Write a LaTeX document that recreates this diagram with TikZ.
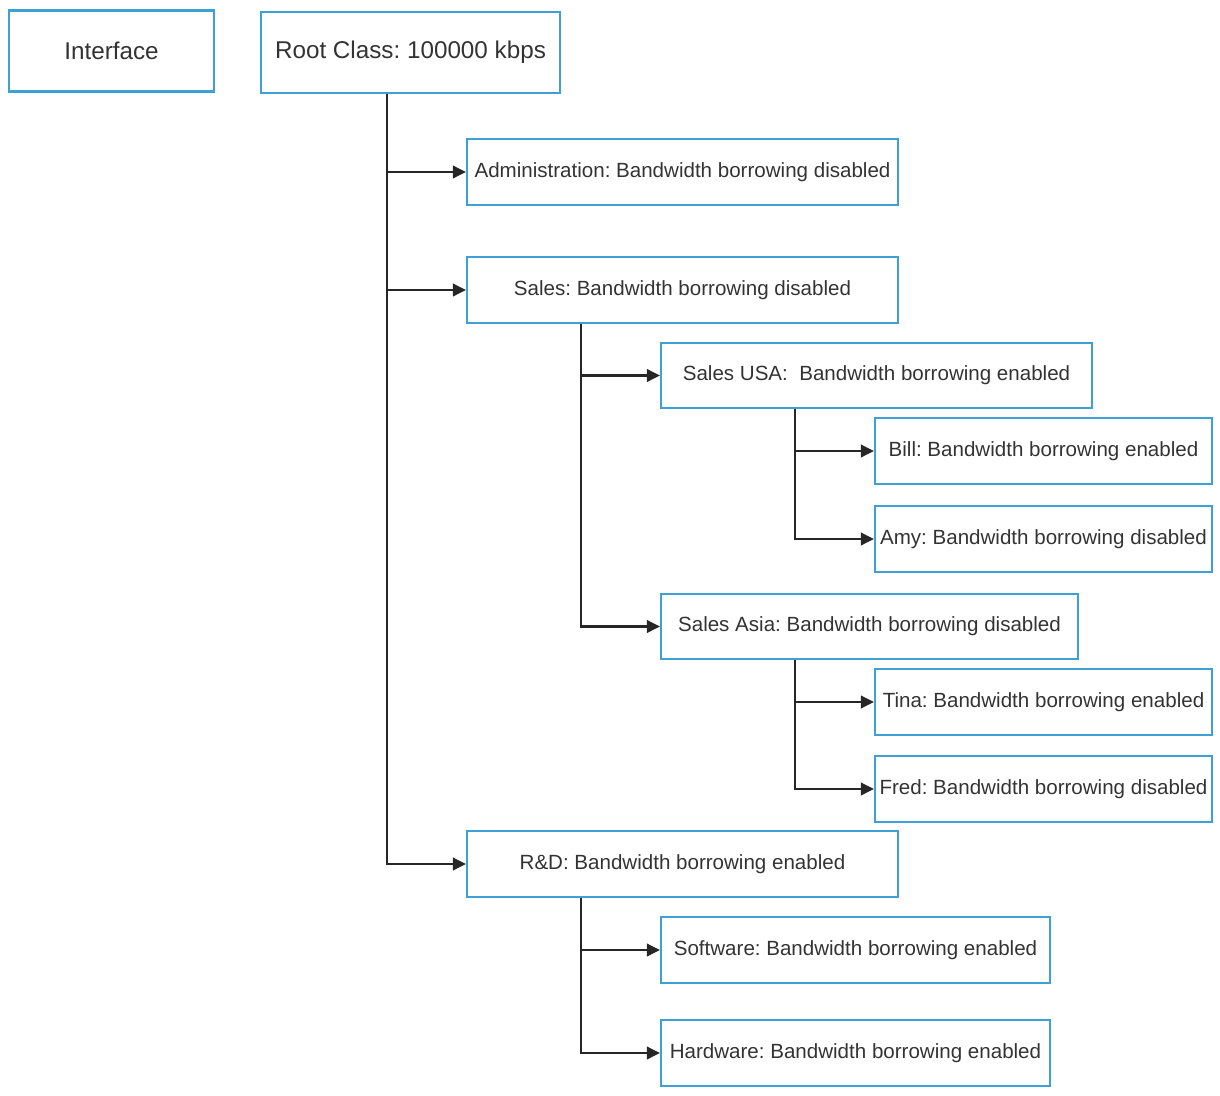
\documentclass[tikz,border=0pt]{standalone}
\usepackage{fontspec}
\setmainfont{Liberation Sans}
\usetikzlibrary{arrows.meta}
\definecolor{Frame}{HTML}{3FA0D6}
\definecolor{Ink}{HTML}{333333}
\frenchspacing

\begin{document}
\begin{tikzpicture}[
  x=0.02cm,y=-0.02cm,
  cls/.style={draw=Frame,line width=1.3pt,minimum height=1.32cm,text=Ink,inner sep=2pt,font=\fontsize{11.7}{14}\selectfont},
  topcls/.style={cls,minimum height=1.62cm,font=\fontsize{13.8}{16}\selectfont},
  arr/.style={-{Triangle[length=2.6mm,width=2.5mm]},line width=1.3pt,draw=black!85}
]
  \useasboundingbox (0,0) rectangle (1220,1095);
  \node[topcls,minimum width=4.1cm] (iface) at (111.5,51) {Interface};
  \node[topcls,minimum width=5.98cm] (root) at (410.5,52.5) {Root Class: 100000 kbps};
  \node[cls,minimum width=8.62cm] (admin) at (682.5,172) {Administration: Bandwidth borrowing disabled};
  \node[cls,minimum width=8.62cm] (sales) at (682.5,290) {Sales: Bandwidth borrowing disabled};
  \node[cls,minimum width=8.62cm,minimum height=1.3cm] (usa) at (876.5,375.5) {Sales USA:\ \ Bandwidth borrowing enabled};
  \node[cls,minimum width=6.74cm] (bill) at (1043.5,451) {Bill: Bandwidth borrowing enabled};
  \node[cls,minimum width=6.74cm] (amy) at (1043.5,539) {Amy: Bandwidth borrowing disabled};
  \node[cls,minimum width=8.34cm,minimum height=1.3cm] (asia) at (869.5,626.5) {Sales Asia: Bandwidth borrowing disabled};
  \node[cls,minimum width=6.74cm] (tina) at (1043.5,702) {Tina: Bandwidth borrowing enabled};
  \node[cls,minimum width=6.74cm] (fred) at (1043.5,789) {Fred: Bandwidth borrowing disabled};
  \node[cls,minimum width=8.62cm] (rnd) at (682.5,864) {R\&D: Bandwidth borrowing enabled};
  \node[cls,minimum width=7.78cm] (soft) at (855.5,950) {Software: Bandwidth borrowing enabled};
  \node[cls,minimum width=7.78cm] (hard) at (855.5,1053) {Hardware: Bandwidth borrowing enabled};

  \coordinate (rootbus) at ([xshift=-0.47cm]root.south);
  \coordinate (salesbus) at ([xshift=-2.03cm]sales.south);
  \coordinate (usabus) at ([xshift=-1.63cm]usa.south);
  \coordinate (asiabus) at ([xshift=-1.49cm]asia.south);
  \coordinate (rndbus) at ([xshift=-2.03cm]rnd.south);

  \draw[arr] (rootbus) |- (admin.west);
  \draw[arr] (rootbus) |- (sales.west);
  \draw[arr] (rootbus) |- (rnd.west);
  \draw[arr] (salesbus) |- (usa.west);
  \draw[arr] (salesbus) |- (asia.west);
  \draw[arr] (usabus) |- (bill.west);
  \draw[arr] (usabus) |- (amy.west);
  \draw[arr] (asiabus) |- (tina.west);
  \draw[arr] (asiabus) |- (fred.west);
  \draw[arr] (rndbus) |- (soft.west);
  \draw[arr] (rndbus) |- (hard.west);
\end{tikzpicture}
\end{document}
